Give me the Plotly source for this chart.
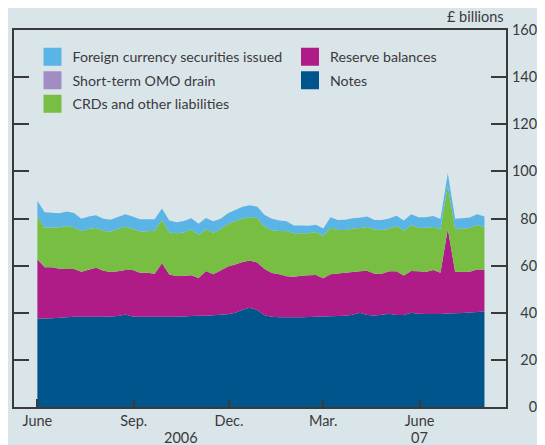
import pandas as pd
import plotly.graph_objects as go

# Weekly observations, June 2006 - August 2007 (£ billions)
dates = pd.date_range("2006-06-01", periods=62, freq="7D")

notes = [37.6, 37.6, 37.7, 37.9, 38.1, 38.3, 38.3, 38.3, 38.3, 38.3,
         38.4, 38.6, 39.3, 38.4, 38.3, 38.3, 38.3, 38.3, 38.3, 38.3,
         38.4, 38.6, 38.7, 38.7, 38.9, 39.1, 39.4, 40.0, 41.3, 42.1,
         41.2, 38.9, 38.3, 38.1, 38.1, 38.1, 38.1, 38.2, 38.3, 38.4,
         38.5, 38.6, 38.7, 39.2, 40.0, 39.0, 38.8, 39.2, 39.6, 39.0,
         39.0, 40.0, 39.6, 39.5, 39.5, 39.5, 39.7, 39.8, 39.9, 40.1,
         40.3, 40.5]

reserve_balances = [25.1, 21.7, 21.6, 20.8, 20.5, 20.3, 19.1, 20.0, 20.8, 19.5,
                    18.9, 19.0, 18.8, 19.7, 18.7, 18.7, 18.3, 22.7, 17.9, 17.3,
                    17.3, 17.3, 16.1, 19.0, 17.4, 18.8, 20.2, 20.5, 20.2, 20.1,
                    20.1, 19.7, 18.6, 18.2, 17.4, 17.2, 17.6, 17.7, 17.7, 16.2,
                    17.8, 18.1, 18.3, 18.1, 17.6, 18.8, 17.8, 17.4, 18.0, 18.6,
                    16.8, 17.7, 18.0, 17.8, 18.6, 17.5, 35.9, 17.6, 17.4, 17.3,
                    18.1, 17.8]

crds_other = [18.1, 16.8, 16.9, 17.6, 18.2, 17.7, 17.3, 17.4, 16.9, 16.9,
              17.2, 17.9, 18.4, 17.6, 17.5, 17.6, 18.2, 18.4, 17.9, 18.1,
              18.4, 19.5, 18.2, 17.7, 17.7, 17.6, 18.1, 18.4, 18.4, 18.4,
              18.9, 17.9, 18.1, 18.4, 19.2, 18.4, 18.0, 17.8, 18.3, 18.0,
              19.8, 18.4, 18.1, 18.5, 18.4, 18.6, 18.7, 18.5, 18.1, 19.2,
              19.0, 19.5, 18.5, 18.8, 18.3, 18.4, 18.4, 18.3, 18.4, 18.6,
              18.8, 18.2]

omo_drain = [0.0] * 62

foreign_securities = [6.6, 6.5, 6.2, 5.9, 6.2, 6.0, 5.2, 5.1, 5.4, 5.2,
                      5.0, 5.1, 5.3, 5.2, 5.2, 5.1, 4.9, 4.8, 5.0, 4.7,
                      4.8, 4.7, 4.8, 4.8, 4.8, 4.4, 4.5, 4.7, 5.1, 5.0,
                      4.8, 5.0, 4.9, 4.5, 4.1, 3.3, 3.3, 3.2, 3.1, 3.2,
                      4.4, 4.3, 4.4, 4.3, 4.3, 4.4, 4.1, 4.3, 4.3, 4.4,
                      4.3, 4.6, 4.4, 4.4, 4.7, 4.4, 5.2, 4.2, 4.4, 4.4,
                      4.6, 4.4]

x_tickvals = ["2006-06-01", "2006-09-01", "2006-12-01", "2007-03-01", "2007-06-01"]
x_ticktext = ["June", "Sep.", "Dec.", "Mar.", "June"]
x_long_ticks = ["2006-06-01", "2007-03-01"]
year_labels = [("2006", "2006-10-16"), ("07", "2007-06-01")]
y_tickvals = [0, 20, 40, 60, 80, 100, 120, 140, 160]
y_ticktext = ["0", "20", "40", "60", "80", "100", "120", "140", "160"]

BG = "rgb(218,229,234)"
INK = "#3a3a3a"
FONT = "Lato"
FS = "\u2007"  # figure space, used to right-align the tick labels

# (name, values, colour, legend, order within legend)
series = [
    ("Notes", notes, "#00558d", "legend2", 2),
    ("Reserve balances", reserve_balances, "#b01c87", "legend2", 1),
    ("CRDs and other liabilities", crds_other, "#78be43", "legend", 3),
    ("Short-term OMO drain", omo_drain, "#a18cc4", "legend", 2),
    ("Foreign currency securities issued", foreign_securities, "#5ab4e5", "legend", 1),
]

fig = go.Figure()
for name, vals, col, leg, rank in series:
    fig.add_trace(go.Scatter(
        x=dates, y=vals, name=name, stackgroup="one", mode="none",
        fillcolor=col, showlegend=False, hoverinfo="x+y+name"))
for name, vals, col, leg, rank in series:
    fig.add_trace(go.Scatter(
        x=[None], y=[None], name=name, mode="markers", legend=leg,
        legendrank=rank, legendgroup=name,
        marker=dict(symbol="square", size=16, color=col, line=dict(width=2, color=col)),
        showlegend=True))

# page is offset by the browser's 8px body margin
W, H = 537, 437
ML, MR, MT, MB = 6, 39, 22, 38
plot_w = W - ML - MR
plot_h = H - MT - MB

width_max = max(len(t) for t in y_ticktext)
y_ticktext_aligned = [FS * (width_max - len(t)) + t for t in y_ticktext]

annotations = [
    dict(text="£ billions", xref="paper", x=1, xanchor="right",
         yref="paper", y=1, yanchor="bottom", yshift=3, showarrow=False,
         font=dict(family=FONT, size=14.5, color=INK)),
]
for txt, xd in year_labels:
    annotations.append(dict(text=txt, xref="x", x=xd, xanchor="center",
                            yref="paper", y=0, yanchor="top", yshift=-20, showarrow=False,
                            font=dict(family=FONT, size=14.5, color=INK)))

leg_common = dict(
    orientation="v", yanchor="top", xanchor="left",
    bgcolor="rgba(0,0,0,0)", borderwidth=0,
    font=dict(family=FONT, size=14.2, color=INK),
    traceorder="grouped", tracegroupgap=2, itemclick=False,
)

fig.update_layout(
    width=W, height=H,
    margin=dict(l=ML, r=MR, t=MT, b=MB, pad=0, autoexpand=False),
    paper_bgcolor=BG, plot_bgcolor=BG,
    font=dict(family=FONT, size=14.5, color=INK),
    showlegend=True,
    legend=dict(x=18.5 / plot_w, y=1 - 11 / plot_h, **leg_common),
    legend2=dict(x=276 / plot_w, y=1 - 11 / plot_h, **leg_common),
    xaxis=dict(
        type="date",
        range=["2006-05-09 16:00", "2007-08-22 14:00"],
        tickmode="array", tickvals=x_tickvals, ticktext=x_ticktext,
        ticks="inside", ticklen=8, tickwidth=1.5, tickcolor=INK,
        showline=True, linecolor=INK, linewidth=2, mirror=True,
        showgrid=False, zeroline=False, automargin=False,
        ticklabelstandoff=0,
        tickfont=dict(family=FONT, size=14.5, color=INK),
    ),
    xaxis2=dict(
        overlaying="x", matches="x", anchor="y", type="date",
        tickmode="array", tickvals=x_long_ticks,
        ticks="inside", ticklen=15, tickwidth=1.5, tickcolor=INK,
        showticklabels=False, showline=False, showgrid=False, zeroline=False,
    ),
    yaxis=dict(
        range=[0, 160], side="right", anchor="x",
        tickmode="array", tickvals=y_tickvals, ticktext=y_ticktext_aligned,
        ticks="inside", ticklen=15, tickwidth=1.5, tickcolor=INK,
        showline=True, linecolor=INK, linewidth=2, mirror="ticks",
        showgrid=False, zeroline=False, automargin=False,
        ticklabelstandoff=1,
        tickfont=dict(family=FONT, size=14.5, color=INK),
    ),
    annotations=annotations,
)

fig.write_html("out.html")
